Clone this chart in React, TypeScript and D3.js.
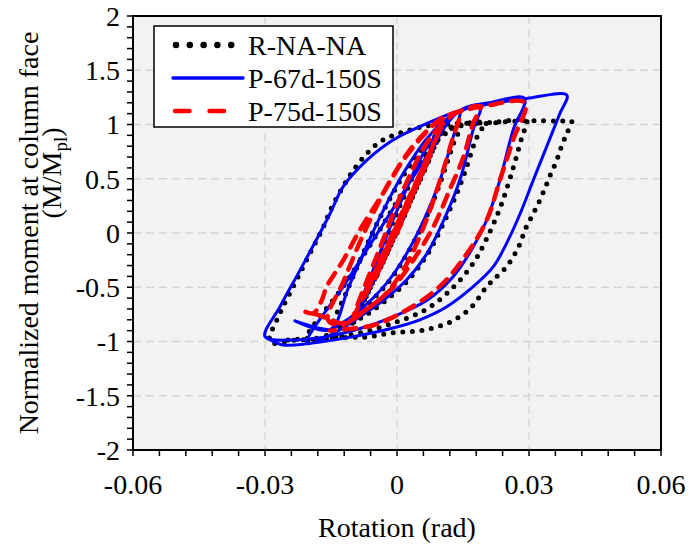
import React from 'react';
import * as d3 from 'd3';

type P = [number, number];

// Axis ticks
const xTickValues = [-0.06, -0.03, 0, 0.03, 0.06];
const xTickLabels = ['-0.06', '-0.03', '0', '0.03', '0.06'];
const yTickValues = [-2, -1.5, -1, -0.5, 0, 0.5, 1, 1.5, 2];
const yTickLabels = ['-2', '-1.5', '-1', '-0.5', '0', '0.5', '1', '1.5', '2'];

const seriesNames = ['R-NA-NA', 'P-67d-150S', 'P-75d-150S'];

// R-NA-NA (rotation rad, M/Mpl)
const rNaNa: P[] = [
  [0, 0], [0.0037, 0.35], [-0.0036, -0.31], [0.0051, 0.48], [-0.005, -0.43],
  [0.0076, 0.7], [-0.0074, -0.62], [0.01, 0.93], [-0.0098, -0.82],
  [-0.005, -0.32], [0.001, 0.28], [0.007, 0.76], [0.0145, 1.0],
  [0.0128, 0.82], [0.0098, 0.46], [0.0068, 0.16], [0.0022, -0.2], [-0.0023, -0.47], [-0.0084, -0.72], [-0.0148, -0.9],
  [-0.011, -0.5], [-0.005, 0.05], [0.001, 0.5], [0.007, 0.83], [0.012, 0.97], [0.0195, 1.01],
  [0.0178, 0.85], [0.0148, 0.49], [0.0116, 0.18], [0.007, -0.19], [0.0022, -0.45], [-0.0031, -0.64], [-0.0084, -0.79], [-0.0144, -0.92], [-0.0205, -0.98],
  [-0.012, -0.48], [-0.003, 0.09], [0.005, 0.62], [0.0105, 0.92], [0.016, 1.0], [0.022, 1.02], [0.0295, 1.03],
  [0.0285, 0.9], [0.0264, 0.6], [0.0236, 0.25], [0.0204, -0.05], [0.0173, -0.28], [0.0128, -0.5], [0.0068, -0.7], [-0.0008, -0.83], [-0.0084, -0.92], [-0.016, -0.97], [-0.0236, -0.99], [-0.0289, -1.005],
  [-0.0266, -0.74], [-0.0236, -0.495], [-0.0213, -0.31], [-0.019, -0.126], [-0.0167, 0.058], [-0.0148, 0.24],
  [-0.0122, 0.43], [-0.0099, 0.58], [-0.0069, 0.73], [-0.0039, 0.84], [-0.0008, 0.9], [0.003, 0.95],
  [0.006, 0.98], [0.0098, 1.0], [0.0143, 1.01], [0.0204, 1.01], [0.0264, 1.03], [0.0317, 1.035], [0.037, 1.03], [0.0397, 1.03],
  [0.0386, 0.92], [0.0374, 0.8], [0.0363, 0.67], [0.0348, 0.53], [0.0336, 0.41], [0.0321, 0.27], [0.0306, 0.15],
  [0.0291, 0.03], [0.028, -0.095], [0.0264, -0.22], [0.0245, -0.33], [0.0227, -0.4], [0.0204, -0.495],
  [0.017, -0.68], [0.0143, -0.77], [0.0116, -0.83], [0.0086, -0.87], [0.0055, -0.9], [0.0025, -0.91],
  [-0.0009, -0.92], [-0.0039, -0.94], [-0.0073, -0.96], [-0.0107, -0.96], [-0.0145, -0.97], [-0.0191, -0.97], [-0.0227, -0.98], [-0.0259, -0.99],
];

// P-67d-150S
const p67d: P[] = [
  [0, 0], [0.0038, 0.36], [-0.0036, -0.31], [0.0052, 0.49], [-0.005, -0.44],
  [0.0077, 0.72], [-0.0075, -0.63], [0.0101, 0.95], [-0.0099, -0.8],
  [-0.005, -0.3], [0.001, 0.3], [0.007, 0.8], [0.0143, 1.13],
  [0.0128, 0.89], [0.0098, 0.49], [0.0068, 0.18], [0.0022, -0.19], [-0.0023, -0.46], [-0.0084, -0.71], [-0.0137, -0.86], [-0.0152, -0.89],
  [-0.0232, -0.81], [-0.0152, -0.89],
  [-0.011, -0.5], [-0.005, 0.05], [0.001, 0.52], [0.007, 0.88], [0.012, 1.07], [0.0189, 1.17],
  [0.0173, 0.95], [0.0143, 0.49], [0.0113, 0.18], [0.0068, -0.19], [0.0022, -0.43], [-0.0031, -0.62], [-0.0084, -0.77], [-0.0144, -0.925], [-0.0205, -1.017],
  [-0.012, -0.48], [-0.003, 0.09], [0.006, 0.66], [0.0143, 1.13], [0.021, 1.2], [0.029, 1.24],
  [0.0264, 0.95], [0.0234, 0.49], [0.0204, 0.12], [0.0173, -0.13], [0.0128, -0.4], [0.0068, -0.62], [-0.0008, -0.77], [-0.0084, -0.88], [-0.016, -0.955], [-0.0236, -0.986], [-0.03, -0.955],
  [-0.0266, -0.68], [-0.022, -0.34], [-0.0179, -0.03], [-0.0152, 0.18], [-0.0122, 0.43], [-0.0069, 0.67], [-0.0008, 0.86],
  [0.0068, 1.01], [0.0143, 1.13], [0.0219, 1.195], [0.0295, 1.24], [0.0386, 1.27],
  [0.037, 1.1], [0.034, 0.795], [0.031, 0.49], [0.028, 0.18], [0.0249, -0.095], [0.0219, -0.31], [0.0173, -0.495],
  [0.0113, -0.68], [0.0052, -0.8], [-0.0023, -0.89], [-0.0099, -0.955], [-0.0198, -1.017], [-0.0262, -1.03], [-0.03, -0.955],
];

// P-75d-150S
const p75d: P[] = [
  [0, 0], [0.0038, 0.37], [-0.0036, -0.3], [0.0052, 0.5], [-0.005, -0.42],
  [0.0077, 0.73], [-0.0075, -0.6], [0.01, 0.97], [-0.0098, -0.76],
  [-0.004, -0.15], [0.002, 0.45], [0.008, 0.9], [0.0143, 1.12],
  [0.0125, 0.85], [0.0095, 0.45], [0.006, 0.05], [0.002, -0.3], [-0.003, -0.58], [-0.009, -0.76], [-0.0125, -0.85], [-0.0157, -0.8],
  [-0.0122, -0.45], [-0.0075, 0.0], [-0.002, 0.45], [0.004, 0.82], [0.01, 1.04], [0.0189, 1.165],
  [0.0173, 1.01], [0.0151, 0.7], [0.012, 0.4], [0.0083, 0.06], [0.0037, -0.25], [-0.0008, -0.495], [-0.0061, -0.68], [-0.0122, -0.83], [-0.0179, -0.755], [-0.0209, -0.725],
  [-0.019, -0.74], [-0.0171, -0.62], [-0.016, -0.495], [-0.0141, -0.37], [-0.0122, -0.25], [-0.0084, 0.03], [-0.0031, 0.37],
  [0.0014, 0.67], [0.006, 0.9], [0.0098, 1.05], [0.0143, 1.12], [0.02, 1.17], [0.0291, 1.2],
  [0.0264, 0.86], [0.0234, 0.49], [0.0204, 0.12], [0.0159, -0.19], [0.0098, -0.49], [0.0022, -0.71], [-0.0054, -0.85], [-0.0122, -0.89], [-0.0152, -0.9],
];

const W = 691;
const H = 552;
const L = 133, R = 661, T = 16, B = 450;
const FONT = '"Liberation Serif", "DejaVu Serif", serif';
const FS = 28;

export default function App() {
  const x = d3.scaleLinear().domain([-0.06, 0.06]).range([L, R]);
  const y = d3.scaleLinear().domain([-2, 2]).range([B, T]);
  const line = d3.line<P>().x(d => x(d[0])).y(d => y(d[1])).curve(d3.curveCatmullRom.alpha(0.5));

  const yMinor = d3.range(-20, 21).map(i => i / 10);
  const xMinor = d3.range(-10, 11).map(i => i * 0.006);

  const styles = [
    { stroke: '#000000', width: 5, dash: '0 9.6', cap: 'round' as const },
    { stroke: '#0000ff', width: 3, dash: undefined, cap: 'round' as const },
    { stroke: '#ff0000', width: 4.5, dash: '12 9', cap: 'round' as const },
  ];
  const legendDash = ['0 13.8', undefined, '14.5 20'];
  const legendWidth = [6.5, 3.5, 4.5];
  const legendX1 = [176, 173, 175];
  const legendX2 = [244, 243, 226];
  const data = [rNaNa, p67d, p75d];

  const legendY = [45, 78, 111];

  return (
    <svg width={W} height={H} style={{ position: 'absolute', left: 0, top: 0, background: '#fff', fontFamily: FONT }}>
      <rect x={L} y={T} width={R - L} height={B - T} fill="#f2f2f2" />
      {/* grid */}
      {xTickValues.slice(1, -1).map(v => (
        <line key={'gx' + v} x1={x(v)} x2={x(v)} y1={T} y2={B} stroke="#d4d4d4" strokeWidth={1.3} strokeDasharray="8 5" />
      ))}
      {yTickValues.slice(1, -1).map(v => (
        <line key={'gy' + v} x1={L} x2={R} y1={y(v)} y2={y(v)} stroke="#d4d4d4" strokeWidth={1.3} strokeDasharray="8 5" />
      ))}
      {/* series */}
      {data.map((d, i) => (
        <path key={'s' + i} d={line(d) || ''} fill="none" stroke={styles[i].stroke} strokeWidth={styles[i].width}
          strokeDasharray={styles[i].dash} strokeLinecap={styles[i].cap} strokeLinejoin="round" />
      ))}
      {/* frame */}
      <rect x={L} y={T} width={R - L} height={B - T} fill="none" stroke="#000" strokeWidth={2} />
      {/* ticks */}
      {yMinor.map(v => (
        <line key={'ty' + v} x1={L - 6} x2={L} y1={y(v)} y2={y(v)} stroke="#000" strokeWidth={1.5} />
      ))}
      {xMinor.map(v => (
        <line key={'tx' + v} x1={x(v)} x2={x(v)} y1={B} y2={B + 6} stroke="#000" strokeWidth={1.5} />
      ))}
      {/* tick labels */}
      {yTickValues.map((v, i) => (
        <text key={'ly' + v} x={120} y={y(v)} dy="0.35em" textAnchor="end" fontSize={FS} fill="#000">{yTickLabels[i]}</text>
      ))}
      {xTickValues.map((v, i) => (
        <text key={'lx' + v} x={x(v)} y={494} textAnchor="middle" fontSize={FS} fill="#000">{xTickLabels[i]}</text>
      ))}
      {/* axis titles */}
      <text x={x(0)} y={537} textAnchor="middle" fontSize={FS} fill="#000">Rotation (rad)</text>
      <text transform={`translate(38, ${y(0)}) rotate(-90)`} textAnchor="middle" fontSize={FS} fill="#000">Normalized moment at column face</text>
      <text transform={`translate(61, 173) rotate(-90)`} textAnchor="middle" fontSize={FS} fill="#000">
        (M/M<tspan fontSize={19} dy="6">pl</tspan><tspan dy="-6">)</tspan>
      </text>
      {/* legend */}
      <rect x={154} y={26} width={239} height={101} fill="#fff" stroke="#000" strokeWidth={1.5} />
      {seriesNames.map((n, i) => (
        <g key={'lg' + i}>
          <line x1={legendX1[i]} x2={legendX2[i]} y1={legendY[i]} y2={legendY[i]} stroke={styles[i].stroke} strokeWidth={legendWidth[i]}
            strokeDasharray={legendDash[i]} strokeLinecap="round" />
          <text x={248} y={legendY[i]} dy="0.35em" fontSize={FS} fill="#000">{n}</text>
        </g>
      ))}
    </svg>
  );
}
